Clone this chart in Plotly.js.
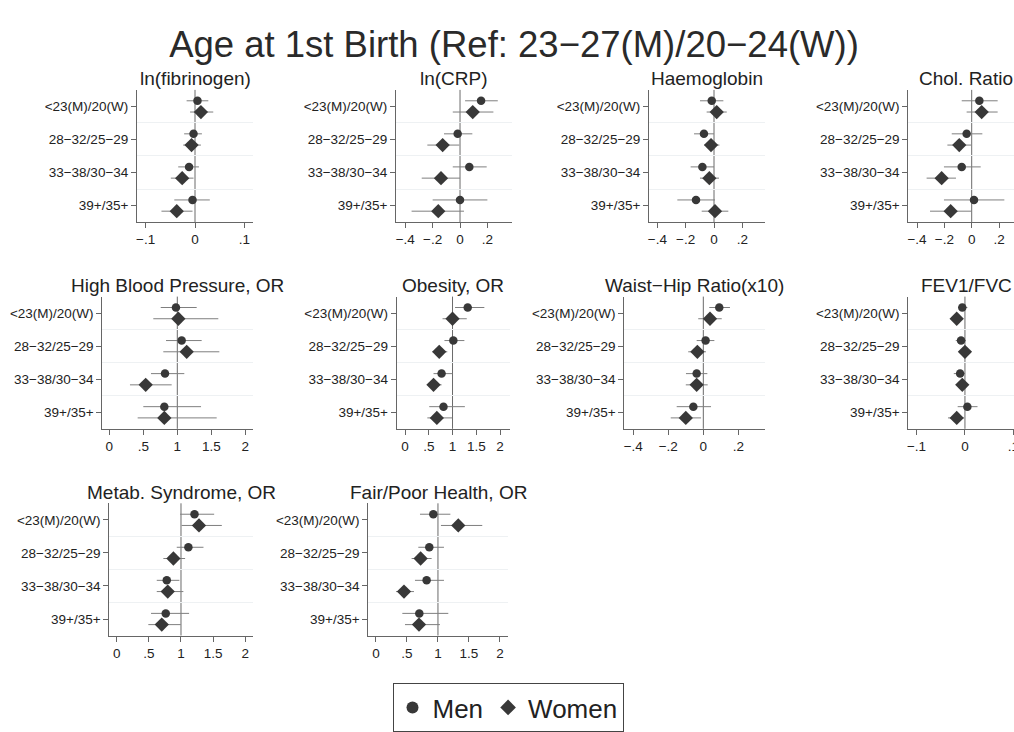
<!DOCTYPE html>
<html>
<head>
<meta charset="utf-8">
<script src="https://cdn.plot.ly/plotly-3.0.1.min.js"></script>
<style>
html,body{margin:0;padding:0;overflow:hidden;background:#fff;width:1014px;height:732px;}
#chart{width:1040px;height:732px;}
</style>
</head>
<body>
<div id="chart"></div>
<script>
// ---------- DATA ----------
const categories = ["<23(M)/20(W)", "28\u221232/25\u221229", "33\u221238/30\u221234", "39+/35+"];
const panelTitles = ["ln(fibrinogen)", "ln(CRP)", "Haemoglobin", "Chol. Ratio",
  "High Blood Pressure, OR", "Obesity, OR", "Waist\u2212Hip Ratio(x10)", "FEV1/FVC",
  "Metab. Syndrome, OR", "Fair/Poor Health, OR"];

// ln(fibrinogen)
const fib_men = [0.005, -0.003, -0.012, -0.005];
const fib_men_lo = [-0.017, -0.022, -0.034, -0.042];
const fib_men_hi = [0.027, 0.014, 0.008, 0.030];
const fib_women = [0.012, -0.007, -0.026, -0.037];
const fib_women_lo = [-0.010, -0.024, -0.049, -0.068];
const fib_women_hi = [0.037, 0.012, -0.003, -0.005];

// ln(CRP)
const crp_men = [0.154, -0.017, 0.068, 0.0];
const crp_men_lo = [0.037, -0.117, -0.053, -0.20];
const crp_men_hi = [0.276, 0.090, 0.195, 0.20];
const crp_women = [0.093, -0.127, -0.139, -0.159];
const crp_women_lo = [-0.053, -0.239, -0.280, -0.354];
const crp_women_hi = [0.244, -0.005, 0.0, 0.029];

// Haemoglobin
const hb_men = [-0.016, -0.071, -0.082, -0.127];
const hb_men_lo = [-0.099, -0.141, -0.165, -0.259];
const hb_men_hi = [0.066, 0.0, 0.0, 0.007];
const hb_women = [0.019, -0.021, -0.033, 0.007];
const hb_women_lo = [-0.052, -0.068, -0.099, -0.087];
const hb_women_hi = [0.090, 0.038, 0.035, 0.101];

// Chol. Ratio
const chol_men = [0.056, -0.037, -0.073, 0.017];
const chol_men_lo = [-0.073, -0.146, -0.203, -0.203];
const chol_men_hi = [0.190, 0.078, 0.066, 0.239];
const chol_women = [0.073, -0.091, -0.220, -0.154];
const chol_women_lo = [-0.037, -0.178, -0.330, -0.305];
const chol_women_hi = [0.190, -0.005, -0.115, 0.0];

// High Blood Pressure, OR
const hbp_men = [0.98, 1.064, 0.819, 0.809];
const hbp_men_lo = [0.756, 0.834, 0.613, 0.50];
const hbp_men_hi = [1.285, 1.358, 1.103, 1.349];
const hbp_women = [1.015, 1.138, 0.535, 0.809];
const hbp_women_lo = [0.647, 0.794, 0.304, 0.417];
const hbp_women_hi = [1.603, 1.618, 0.917, 1.579];

// Obesity, OR
const ob_men = [1.32, 1.017, 0.77, 0.81];
const ob_men_lo = [1.053, 0.83, 0.60, 0.51];
const ob_men_hi = [1.67, 1.25, 1.0, 1.26];
const ob_women = [1.0, 0.72, 0.60, 0.67];
const ob_women_lo = [0.79, 0.58, 0.46, 0.47];
const ob_women_hi = [1.30, 0.89, 0.77, 0.996];

// Waist-Hip Ratio(x10)
const whr_men = [0.091, 0.013, -0.038, -0.057];
const whr_men_lo = [0.034, -0.038, -0.099, -0.152];
const whr_men_hi = [0.152, 0.063, 0.023, 0.044];
const whr_women = [0.038, -0.034, -0.038, -0.100];
const whr_women_lo = [-0.029, -0.086, -0.100, -0.186];
const whr_women_hi = [0.105, 0.015, 0.025, -0.013];

// FEV1/FVC
const fev_men = [-0.0055, -0.008, -0.010, 0.005];
const fev_men_lo = [-0.014, -0.019, -0.023, -0.015];
const fev_men_hi = [0.005, 0.002, 0.0, 0.026];
const fev_women = [-0.017, 0.0, -0.0055, -0.017];
const fev_women_lo = [-0.031, -0.008, -0.015, -0.035];
const fev_women_hi = [-0.0055, 0.009, 0.003, -0.002];

// Metab. Syndrome, OR
const ms_men = [1.21, 1.115, 0.779, 0.763];
const ms_men_lo = [0.986, 0.934, 0.623, 0.534];
const ms_men_hi = [1.516, 1.35, 0.975, 1.126];
const ms_women = [1.28, 0.882, 0.794, 0.701];
const ms_women_lo = [1.01, 0.726, 0.623, 0.492];
const ms_women_hi = [1.635, 1.064, 1.037, 0.997];

// Fair/Poor Health, OR
const fp_men = [0.925, 0.86, 0.817, 0.699];
const fp_men_lo = [0.71, 0.683, 0.629, 0.425];
const fp_men_hi = [1.20, 1.097, 1.097, 1.167];
const fp_women = [1.328, 0.72, 0.452, 0.694];
const fp_women_lo = [1.048, 0.575, 0.323, 0.468];
const fp_women_hi = [1.715, 0.898, 0.613, 1.032];

// x tick values / labels
const tickSmall = [-0.1, 0, 0.1];
const tickSmallText = ["\u2212.1", "0", ".1"];
const tickMid = [-0.4, -0.2, 0, 0.2];
const tickMidText = ["\u2212.4", "\u2212.2", "0", ".2"];
const tickOR = [0, 0.5, 1, 1.5, 2];
const tickORText = ["0", ".5", "1", "1.5", "2"];

// ---------- LAYOUT HELPERS ----------
const W = 1040, H = 732;
const FONT = "Liberation Sans, Arial, Helvetica, sans-serif";

const panels = [
  {men:[fib_men,fib_men_lo,fib_men_hi], women:[fib_women,fib_women_lo,fib_women_hi], x:[137,253], y:[90,222.4], range:[-0.1176,0.1176], tv:tickSmall, tt:tickSmallText, ref:0},
  {men:[crp_men,crp_men_lo,crp_men_hi], women:[crp_women,crp_women_lo,crp_women_hi], x:[396,512], y:[90,222.4], range:[-0.468,0.380], tv:tickMid, tt:tickMidText, ref:0},
  {men:[hb_men,hb_men_lo,hb_men_hi], women:[hb_women,hb_women_lo,hb_women_hi], x:[649,765], y:[90,222.4], range:[-0.459,0.360], tv:tickMid, tt:tickMidText, ref:0},
  {men:[chol_men,chol_men_lo,chol_men_hi], women:[chol_women,chol_women_lo,chol_women_hi], x:[908.3,1024.3], y:[90,222.4], range:[-0.464,0.385], tv:tickMid, tt:tickMidText, ref:0},
  {men:[hbp_men,hbp_men_lo,hbp_men_hi], women:[hbp_women,hbp_women_lo,hbp_women_hi], x:[102.3,253], y:[297,429.4], range:[-0.103,2.113], tv:tickOR, tt:tickORText, ref:1},
  {men:[ob_men,ob_men_lo,ob_men_hi], women:[ob_women,ob_women_lo,ob_women_hi], x:[396.7,510], y:[297,429.4], range:[-0.175,2.21], tv:tickOR, tt:tickORText, ref:1},
  {men:[whr_men,whr_men_lo,whr_men_hi], women:[whr_women,whr_women_lo,whr_women_hi], x:[624.3,765], y:[297,429.4], range:[-0.451,0.352], tv:tickMid, tt:tickMidText, ref:0},
  {men:[fev_men,fev_men_lo,fev_men_hi], women:[fev_women,fev_women_lo,fev_women_hi], x:[908.3,1024], y:[297,429.4], range:[-0.117,0.122], tv:tickSmall, tt:tickSmallText, ref:0},
  {men:[ms_men,ms_men_lo,ms_men_hi], women:[ms_women,ms_women_lo,ms_women_hi], x:[109.3,253], y:[504,636.4], range:[-0.115,2.12], tv:tickOR, tt:tickORText, ref:1},
  {men:[fp_men,fp_men_lo,fp_men_hi], women:[fp_women,fp_women_lo,fp_women_hi], x:[368.3,508], y:[504,636.4], range:[-0.124,2.13], tv:tickOR, tt:tickORText, ref:1}
];

const MARK = "#383838";
const ERR = "#7f7f7f";
const AXIS = "#666666";

const traces = [];
const layout = {
  width: W, height: H,
  margin: {l:0, r:0, t:0, b:0},
  paper_bgcolor: "#fff", plot_bgcolor: "#fff",
  font: {family: FONT, color: "#222", size: 13},
  showlegend: true,
  title: {text: "Age at 1st Birth (Ref: 23\u221227(M)/20\u221224(W))", x: 514/W, xanchor: "center", y: 1 - 44/H, yanchor: "middle", font: {family: FONT, size: 36.5, color: "#2a2a2a"}},
  legend: {orientation: "h", x: 508/W, xanchor: "center", y: 1 - 708/H, yanchor: "middle",
           bordercolor: "#444", borderwidth: 1, bgcolor: "#fff", font: {family: FONT, size: 26, color: "#222"},
           itemsizing: "constant", itemwidth: 30, tracegroupgap: 0},
  shapes: [],
  annotations: []
};

panels.forEach((p, i) => {
  const n = i + 1;
  const xa = n === 1 ? "xaxis" : "xaxis" + n;
  const ya = n === 1 ? "yaxis" : "yaxis" + n;
  const xr = n === 1 ? "x" : "x" + n;
  const yr = n === 1 ? "y" : "y" + n;
  const ymen = categories.map((c, k) => k + 1 - 0.17);
  const ywom = categories.map((c, k) => k + 1 + 0.17);
  const mk = (arr, yy, sym, size, name) => ({
    type: "scatter", mode: "markers", x: arr[0], y: yy, xaxis: xr, yaxis: yr,
    name: name, showlegend: n === 1, legendgroup: name,
    marker: {symbol: sym, size: size, color: MARK, line: {width: 0}},
    error_x: {type: "data", symmetric: false,
      array: arr[2].map((h, k) => h - arr[0][k]),
      arrayminus: arr[1].map((l, k) => arr[0][k] - l),
      width: 0, thickness: 1, color: ERR},
    hoverinfo: "x"
  });
  traces.push(mk(p.men, ymen, "circle", 8.5, "Men"));
  traces.push(mk(p.women, ywom, "diamond", 11, "Women"));

  layout[xa] = {
    domain: [p.x[0]/W, p.x[1]/W], range: p.range, anchor: yr,
    tickmode: "array", tickvals: p.tv, ticktext: p.tt,
    showline: true, linecolor: AXIS, linewidth: 1, ticks: "outside", ticklen: 5, tickcolor: AXIS,
    showgrid: false, zeroline: false, tickfont: {size: 13.5, color: "#222"}, fixedrange: true
  };
  layout[ya] = {
    domain: [1 - p.y[1]/H, 1 - p.y[0]/H], range: [4.5, 0.5], anchor: xr,
    tickmode: "array", tickvals: [1, 2, 3, 4], ticktext: categories,
    showline: true, linecolor: AXIS, linewidth: 1, ticks: "outside", ticklen: 5, tickcolor: AXIS,
    showgrid: false, zeroline: false, tickfont: {size: 13.5, color: "#222"}, fixedrange: true,
    minor: {tickvals: [1.5, 2.5, 3.5], showgrid: true, gridcolor: "#eef1f3", gridwidth: 1, ticks: ""}
  };
  layout.shapes.push({type: "line", xref: xr, yref: yr + " domain", x0: p.ref, x1: p.ref, y0: 0, y1: 1,
    line: {color: "#6a6a6a", width: 1}, layer: "below"});
  layout.annotations.push({text: panelTitles[i], xref: "paper", yref: "paper",
    x: (p.x[0] + p.x[1]) / 2 / W, y: 1 - (p.y[0] - 11) / H, xanchor: "center", yanchor: "middle",
    showarrow: false, font: {family: FONT, size: 19, color: "#222"}});
});

Plotly.newPlot("chart", traces, layout, {displayModeBar: false, staticPlot: true});
</script>
</body>
</html>
